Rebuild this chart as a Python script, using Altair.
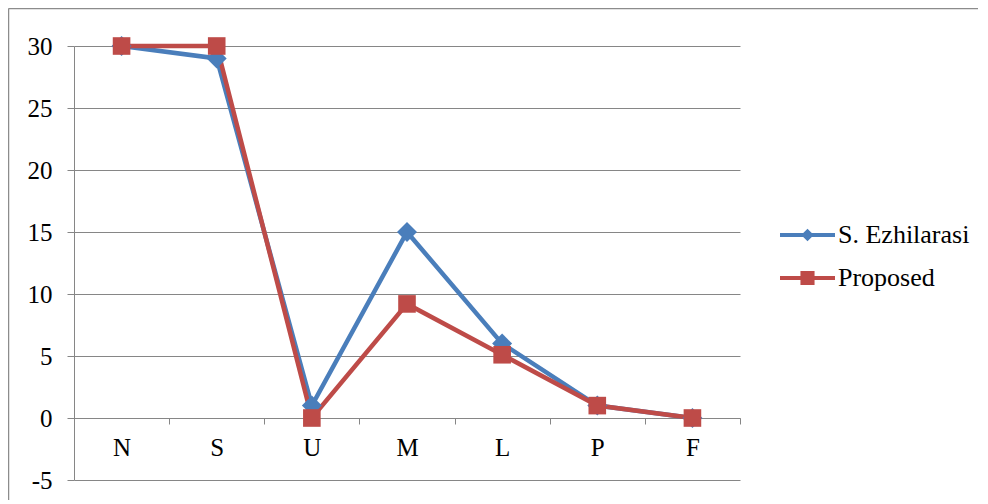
import altair as alt
import pandas as pd

categories = ["N", "S", "U", "M", "L", "P", "F"]
series_names = ["S. Ezhilarasi", "Proposed"]
ezhilarasi = [30, 29, 1, 15, 6, 1, 0]
proposed = [30, 30, 0, 9.2, 5.1, 1, 0]
y_ticks = [-5, 0, 5, 10, 15, 20, 25, 30]

rows = []
for name, vals in zip(series_names, [ezhilarasi, proposed]):
    for c, v in zip(categories, vals):
        rows.append({"cat": c, "value": v, "series": name})
df = pd.DataFrame(rows)

BLUE = "#4a7ebb"
RED = "#be4b48"
FONT = "Liberation Serif, Times New Roman, serif"

diamond_path = ("M-1.833,-0.133L1.833,-0.133L1.833,0.133L-1.833,0.133Z "
                "M0,-0.42L0.42,0L0,0.42L-0.42,0Z")
square_path = ("M-1.833,-0.133L1.833,-0.133L1.833,0.133L-1.833,0.133Z "
               "M-0.47,-0.47L0.47,-0.47L0.47,0.47L-0.47,0.47Z")

color_scale = alt.Scale(domain=series_names, range=[BLUE, RED])

legend = alt.Legend(
    title=None,
    orient="none",
    legendX=718.5,
    legendY=174,
    symbolSize=900,
    symbolStrokeWidth=0,
    symbolOpacity=1,
    labelOffset=15.5,
    rowPadding=15,
    labelFont=FONT,
    labelFontSize=26,
    labelColor="black",
    padding=0,
)

x_enc = alt.X(
    "cat:N",
    sort=categories,
    scale=alt.Scale(type="band", paddingInner=0, paddingOuter=0),
    axis=alt.Axis(
        title=None,
        offset=-62,
        tickBand="extent",
        labelAngle=0,
        grid=False,
        domainColor="#868686",
        tickColor="#868686",
        tickSize=6,
        labelPadding=11,
        labelFont=FONT,
        labelFontSize=25,
        labelColor="black",
    ),
)
y_enc = alt.Y(
    "value:Q",
    scale=alt.Scale(domain=[-5, 30], nice=False, zero=False),
    axis=alt.Axis(
        title=None,
        values=y_ticks,
        labelExpr="'' + datum.value",
        grid=True,
        gridColor="#868686",
        gridWidth=1,
        domainColor="#868686",
        tickColor="#868686",
        tickSize=7,
        labelPadding=15,
        labelFont=FONT,
        labelFontSize=25,
        labelColor="black",
    ),
)

base = alt.Chart(df)
lines = base.mark_line(strokeWidth=4.5).encode(
    x=x_enc, y=y_enc,
    color=alt.Color("series:N", sort=series_names, scale=color_scale, legend=None),
    detail="series:N",
)
points = base.mark_point(filled=True, opacity=1).encode(
    x=x_enc,
    y=y_enc,
    color=alt.Color("series:N", sort=series_names, scale=color_scale, legend=None),
    shape=alt.Shape("series:N", sort=series_names,
                    scale=alt.Scale(domain=series_names, range=["diamond", "square"]),
                    legend=None),
    size=alt.Size("series:N", sort=series_names,
                  scale=alt.Scale(domain=series_names, range=[400, 310]),
                  legend=None),
)
legend_layer = base.transform_filter("false").mark_point(filled=True, opacity=1).encode(
    x=x_enc,
    y=y_enc,
    color=alt.Color("series:N", sort=series_names, scale=color_scale, legend=legend),
    shape=alt.Shape("series:N", sort=series_names,
                    scale=alt.Scale(domain=series_names, range=[diamond_path, square_path]),
                    legend=legend),
)

frame_df = pd.DataFrame({"k": [0]})
frame_top = alt.Chart(frame_df).mark_rule(color="#8c8c8c", strokeWidth=1.5, clip=False).encode(
    x=alt.value(-65.5), x2=alt.value(914), y=alt.value(-37.5)
)
frame_left = alt.Chart(frame_df).mark_rule(color="#8c8c8c", strokeWidth=1.5, clip=False).encode(
    x=alt.value(-65.5), y=alt.value(-37.5), y2=alt.value(460)
)

chart = alt.layer(frame_top, frame_left, lines, points, legend_layer).resolve_scale(
    color="independent", shape="independent", size="independent"
).properties(
    width=666,
    height=434,
    autosize=alt.AutoSizeParams(type="none"),
    padding={"left": 66, "top": 38, "right": 238, "bottom": 20},
).configure(
    background="white", font=FONT
).configure_view(stroke=None).configure_axis(
    labelFont=FONT
).configure_legend(labelFont=FONT)

chart.save("out.html", embed_options={"renderer": "svg", "actions": False})
